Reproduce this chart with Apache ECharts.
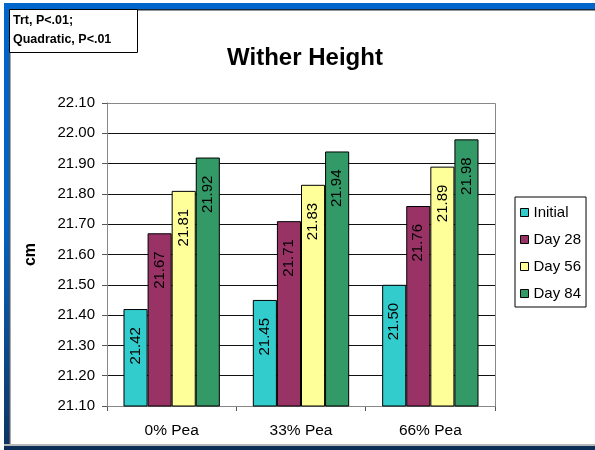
<!DOCTYPE html>
<html>
<head>
<meta charset="utf-8">
<script src="https://cdn.jsdelivr.net/npm/echarts@6/dist/echarts.min.js"></script>
<style>
  html, body { margin: 0; padding: 0; background: #ffffff; }
  #chart { width: 595px; height: 450px; }
</style>
</head>
<body>
<div id="chart"></div>
<script>
// Groups along the x axis
const categories = ['0% Pea', '33% Pea', '66% Pea'];
// Wither height (cm) per measurement day
const seriesNames = ['Initial', 'Day 28', 'Day 56', 'Day 84'];
const initial = [21.42, 21.45, 21.50];
const day28 = [21.67, 21.71, 21.76];
const day56 = [21.81, 21.83, 21.89];
const day84 = [21.92, 21.94, 21.98];
const yTicks = { min: 21.1, max: 22.1, step: 0.1 };

const colors = ['#33CCCC', '#993366', '#FFFF99', '#339966'];
const values = [initial, day28, day56, day84];
const FONT = 'Liberation Sans, Arial, sans-serif';

const chart = echarts.init(document.getElementById('chart'), null, { renderer: 'canvas' });

const series = values.map((data, i) => ({
  name: seriesNames[i],
  type: 'bar',
  data: data,
  barGap: '0%',
  barCategoryGap: '25.5%',
  itemStyle: { color: colors[i], borderColor: '#000000', borderWidth: 1 },
  label: {
    show: true,
    position: 'insideTop',
    rotate: 90,
    align: 'right',
    verticalAlign: 'middle',
    distance: 18,
    formatter: p => p.value.toFixed(2),
    color: '#000000',
    fontFamily: FONT,
    fontSize: 15
  }
}));

// blue slide border fading to navy toward the bottom
const sideFill = new echarts.graphic.LinearGradient(0, 0, 0, 1, [
  { offset: 0, color: '#0066CC' },
  { offset: 0.5, color: '#0062C4' },
  { offset: 0.75, color: '#0a4c94' },
  { offset: 1, color: '#0d3463' }
]);

chart.setOption({
  animation: false,
  backgroundColor: '#ffffff',
  title: {
    text: 'Wither Height',
    left: 300,
    top: 41,
    textAlign: 'center',
    textStyle: { fontFamily: FONT, fontSize: 24, fontWeight: 'bold', color: '#000000' }
  },
  legend: {
    orient: 'vertical',
    left: 515,
    top: 197,
    padding: [6, 5, 4, 5],
    itemGap: 8,
    itemWidth: 8,
    itemHeight: 8,
    borderColor: '#000000',
    borderWidth: 1,
    backgroundColor: '#ffffff',
    icon: 'rect',
    itemStyle: { borderColor: '#000000', borderWidth: 1 },
    textStyle: { fontFamily: FONT, fontSize: 15, color: '#000000', lineHeight: 19 },
    data: seriesNames
  },
  grid: { left: 107, right: 100, top: 103, bottom: 44, containLabel: false },
  xAxis: {
    type: 'category',
    data: categories,
    axisLine: { lineStyle: { color: '#555555', width: 1 } },
    axisTick: { show: true, inside: false, length: 5, lineStyle: { color: '#555555' } },
    axisLabel: { margin: 17, fontFamily: FONT, fontSize: 15.5, color: '#000000' }
  },
  yAxis: {
    type: 'value',
    min: yTicks.min,
    max: yTicks.max,
    interval: yTicks.step,
    name: 'cm',
    nameLocation: 'middle',
    nameGap: 68,
    nameTextStyle: { fontFamily: FONT, fontSize: 16, fontWeight: 'bold', color: '#000000' },
    axisLine: { show: true, lineStyle: { color: '#555555', width: 1 } },
    axisTick: { show: true, inside: false, length: 5, lineStyle: { color: '#555555' } },
    axisLabel: { margin: 12, fontFamily: FONT, fontSize: 15, color: '#000000', formatter: v => v.toFixed(2) },
    splitLine: { show: true, lineStyle: { color: '#111111', width: 1 } }
  },
  graphic: [
    // plot frame: top and right edges
    { type: 'rect', shape: { x: 107.5, y: 103.5, width: 388, height: 303 }, style: { fill: 'none', stroke: '#888888', lineWidth: 1 }, z: 1, silent: true },
    // slide frame
    { type: 'rect', shape: { x: 4, y: 3, width: 591, height: 6 }, style: { fill: '#0066CC' }, z: 20 },
    { type: 'rect', shape: { x: 9, y: 9, width: 586, height: 1.5 }, style: { fill: '#1a2a3a' }, z: 20 },
    { type: 'rect', shape: { x: 4, y: 3, width: 5, height: 444 }, style: { fill: sideFill }, z: 20 },
    { type: 'rect', shape: { x: 9, y: 9, width: 1.5, height: 437 }, style: { fill: '#4a5560' }, z: 20 },
    { type: 'rect', shape: { x: 4, y: 444, width: 591, height: 2 }, style: { fill: '#b8b8b8' }, z: 20 },
    { type: 'rect', shape: { x: 4, y: 446, width: 591, height: 4 }, style: { fill: '#0d2f57' }, z: 20 },
    // statistics note box
    { type: 'rect', shape: { x: 9.5, y: 9.5, width: 128, height: 43 }, style: { fill: '#ffffff', stroke: '#000000', lineWidth: 1 }, z: 21 },
    { type: 'text', x: 13, y: 21, style: { text: 'Trt, P<.01;', fontFamily: FONT, fontSize: 12.5, fontWeight: 'bold', fill: '#000000', verticalAlign: 'middle' }, z: 22 },
    { type: 'text', x: 13, y: 40, style: { text: 'Quadratic, P<.01', fontFamily: FONT, fontSize: 12.5, fontWeight: 'bold', fill: '#000000', verticalAlign: 'middle' }, z: 22 }
  ],
  series: series
});
</script>
</body>
</html>
